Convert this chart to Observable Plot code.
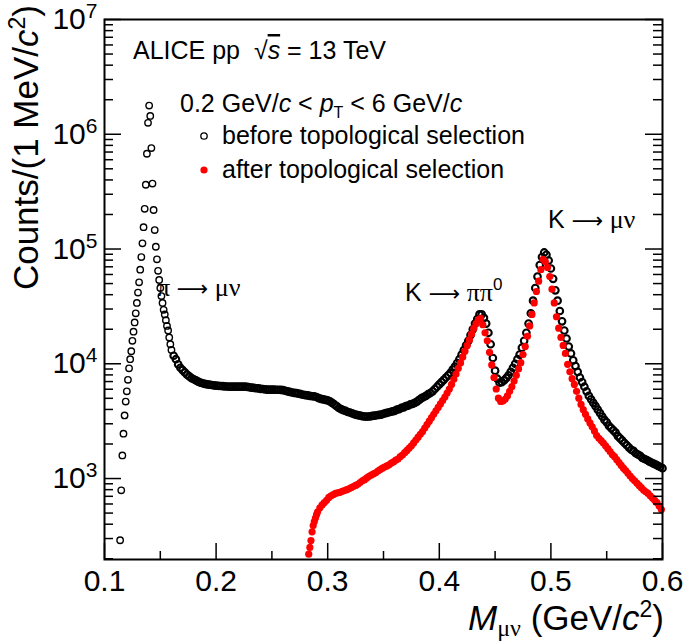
<!DOCTYPE html>
<html><head><meta charset="utf-8">
<script src="https://cdn.jsdelivr.net/npm/d3@7"></script>
<script src="https://cdn.jsdelivr.net/npm/@observablehq/plot@0.6"></script>
<style>
body{margin:0;background:#fff}
svg text{font-family:"Liberation Sans",Arial,sans-serif}
</style>
</head><body><div id="chart"></div>
<script>
// ---- data (counts per 1 MeV/c^2 bin) ----
// before topological selection: fine part 114..160 MeV (step 1), coarse part 162..600 MeV (step 2)
const beforeFineMassMeV = d3.range(114, 161, 1);
const beforeFineCounts = [290,790,1590,2460,3550,4680,5750,7240,9120,10960,12880,15850,19050,22910,27540,33880,41690,51290,66070,85110,112200,154900,223900,363100,676100,1259000,1778000,1445000,758600,371500,218800,146200,104700,81280,64570,53700,45710,38900,33880,29510,26920,23990,21380,19500,16980,14790,13180];
const beforeCoarseMassMeV = d3.range(162, 601, 2);
const beforeCoarseCounts = [11750,10960,9890,9230,8810,8410,8040,7760,7500,7330,7160,7000,6840,6760,6680,6610,6580,6530,6490,6460,
6430,6400,6380,6350,6340,6310,6310,6310,6310,6310,6310,6310,6310,6280,6240,6190,6170,6120,6100,6050,
6030,5980,5960,5960,5960,5960,5940,5940,5930,5890,5820,5750,5690,5620,5580,5550,5500,5430,5370,5330,
5300,5250,5210,5190,5130,5010,4950,4900,4840,4790,4700,4570,4420,4270,4120,4030,3940,3890,3800,3760,
3700,3630,3590,3550,3510,3480,3470,3470,3480,3510,3530,3560,3590,3610,3670,3720,3760,3800,3850,3890,
3980,4030,4120,4170,4270,4320,4420,4470,4570,4680,4840,5010,5130,5250,5430,5560,5750,6030,6310,6610,
6920,7240,7590,7940,8320,8910,9440,10140,10960,12020,13180,14450,15850,17780,19950,22390,24550,26920,26920,25120,
22390,18620,14790,11220,8710,7410,6840,6920,7160,7500,7940,8510,9230,10000,10960,12020,13800,15850,18620,22390,
27540,35480,45710,57540,72440,85110,93330,89130,79430,67610,54950,43650,35480,28840,23440,19500,16600,14130,12300,10720,
9550,8510,7590,6920,6310,5750,5250,4900,4570,4270,3980,3720,3470,3240,3090,2880,2750,2630,2510,2340,
2240,2140,2040,1950,1860,1780,1740,1660,1620,1580,1510,1480,1450,1410,1380,1350,1320,1290,1260,1230];
// after topological selection: fine part 283..291 MeV (step 1), coarse part 293..599 MeV (step 2)
const afterFineMassMeV = d3.range(283, 292, 1);
const afterFineCounts = [219,251,288,343,389,422,452,484,513];
const afterCoarseMassMeV = d3.range(293, 600, 2);
const afterCoarseCounts = [556,589,617,646,684,708,724,741,750,759,773,785,800,813,832,851,871,891,923,955,
977,1012,1047,1072,1096,1122,1161,1197,1230,1259,1288,1318,1365,1396,1445,1479,1549,1603,1679,1758,
1841,1928,2042,2163,2291,2427,2570,2754,2951,3162,3388,3631,3890,4169,4467,4786,5129,5559,6026,6607,
7328,8128,9120,10140,11480,12880,14450,16220,18200,20420,22390,24270,24830,21880,18620,15850,12590,9770,7590,6026,
5012,4699,4732,4898,5248,5754,6310,7079,7943,9016,10230,12020,14130,17380,21380,26920,33880,42660,52480,66070,
81280,77620,69180,57540,44670,33880,25700,20420,16980,14450,12300,9890,8510,7410,6610,5750,5010,4420,3980,3630,
3310,3050,2820,2600,2370,2240,2140,2040,1930,1820,1720,1620,1550,1460,1380,1300,1230,1175,1110,1050,
1000,955,912,871,832,794,767,741,708,676,646,617,575,537];

// axis ticks
const xMajorTicks = [0.1, 0.2, 0.3, 0.4, 0.5, 0.6];
const xMinorTicks = [0.15, 0.25, 0.35, 0.45, 0.55];
const yMajorTicks = [1e3, 1e4, 1e5, 1e6, 1e7];
const yMinorMultipliers = [2, 3, 4, 5, 6, 7, 8, 9];
const yDecades = [1e2, 1e3, 1e4, 1e5, 1e6];
const yDomain = [197, 1e7];

// ---- tables ----
const toRows = (mass, counts) => mass.map((m, i) => ({m: m / 1000, c: counts[i]})).filter(d => d.c != null);
const beforeFine = toRows(beforeFineMassMeV, beforeFineCounts);
const beforeCoarse = toRows(beforeCoarseMassMeV, beforeCoarseCounts);
const after = [...toRows(afterFineMassMeV, afterFineCounts), ...toRows(afterCoarseMassMeV, afterCoarseCounts)];
const yMinorTicks = yDecades.flatMap(d => yMinorMultipliers.map(k => d * k)).filter(v => v > yDomain[0] && v < yDomain[1]);

const W = 685, H = 644, mL = 104, mR = 23, mT = 19, mB = 85;
const fw = W - mL - mR, fh = H - mT - mB;
const majLen = 17, minLen = 9;

const chart = Plot.plot({
  width: W, height: H,
  marginLeft: mL, marginRight: mR, marginTop: mT, marginBottom: mB,
  style: {fontFamily: "Liberation Sans, Arial, sans-serif", fontSize: "30px", background: "white", color: "black", overflow: "visible"},
  x: {domain: [0.1, 0.6]},
  y: {type: "log", domain: yDomain},
  marks: [
    Plot.dot(beforeFine, {x: "m", y: "c", r: 3.2, stroke: "black", strokeWidth: 1.4, fill: "none"}),
    Plot.dot(beforeCoarse, {x: "m", y: "c", r: 3.3, stroke: "black", strokeWidth: 2.1, fill: "none"}),
    Plot.dot(after, {x: "m", y: "c", r: 3.6, fill: "#ff0000", stroke: "none"}),
    Plot.ruleX(xMajorTicks, {insetTop: fh - 16, stroke: "black", strokeWidth: 1.5}),
    Plot.ruleX(xMinorTicks, {insetTop: fh - 8, stroke: "black", strokeWidth: 1.5}),
    Plot.ruleY(yMajorTicks, {insetRight: fw - majLen, stroke: "black", strokeWidth: 1.5}),
    Plot.ruleY(yMinorTicks, {insetRight: fw - minLen, stroke: "black", strokeWidth: 1.5}),
    Plot.ruleY(yMajorTicks, {insetLeft: fw - majLen, stroke: "black", strokeWidth: 1.5}),
    Plot.ruleY(yMinorTicks, {insetLeft: fw - minLen, stroke: "black", strokeWidth: 1.5}),
    Plot.axisX({ticks: xMajorTicks, tickSize: 0, tickPadding: 10, tickFormat: d3.format(".1f"), label: null, fontSize: 30}),
    Plot.axisY({ticks: yMajorTicks, tickSize: 0, tickPadding: 7, tickFormat: d => "10^" + Math.round(Math.log10(d)), label: null, fontSize: 30}),
    Plot.frame({stroke: "black", strokeWidth: 2})
  ]
});
document.getElementById("chart").appendChild(chart);

const ns = "http://www.w3.org/2000/svg";
// superscript exponents on the y tick labels
chart.querySelectorAll('[aria-label="y-axis tick label"] text').forEach(t => {
  const [b, e] = t.textContent.split("^");
  t.textContent = "";
  const t1 = document.createElementNS(ns, "tspan"); t1.textContent = b; t.appendChild(t1);
  const t2 = document.createElementNS(ns, "tspan"); t2.setAttribute("dy", "-11"); t2.setAttribute("font-size", "21"); t2.textContent = e; t.appendChild(t2);
});

const g = document.createElementNS(ns, "g");
g.setAttribute("text-anchor", "start");
chart.appendChild(g);
function rich(x, y, parts, opts = {}) {
  const t = document.createElementNS(ns, "text");
  t.setAttribute("x", x); t.setAttribute("y", y);
  t.setAttribute("font-size", opts.size || 24);
  t.setAttribute("fill", "black");
  t.setAttribute("text-anchor", opts.anchor || "start");
  if (opts.transform) t.setAttribute("transform", opts.transform);
  for (const p of parts) {
    const s = document.createElementNS(ns, "tspan");
    s.textContent = p.t;
    if (p.italic) s.setAttribute("font-style", "italic");
    if (p.serif) s.setAttribute("font-family", "Liberation Serif, DejaVu Serif, serif");
    if (p.arrow) s.setAttribute("font-family", "DejaVu Sans, sans-serif");
    if (p.dy) s.setAttribute("dy", p.dy);
    if (p.size) s.setAttribute("font-size", p.size);
    if (p.deco) s.setAttribute("text-decoration", p.deco);
    t.appendChild(s);
  }
  g.appendChild(t);
  return t;
}
function circ(cx, cy, r, fill, stroke) {
  const c = document.createElementNS(ns, "circle");
  c.setAttribute("cx", cx); c.setAttribute("cy", cy); c.setAttribute("r", r);
  c.setAttribute("fill", fill); c.setAttribute("stroke", stroke); c.setAttribute("stroke-width", 1.3);
  g.appendChild(c);
}

// annotations
rich(133, 59, [{t: "ALICE pp  √"}, {t: "s", italic: true, deco: "overline"}, {t: " = 13 TeV"}], {size: 25});
rich(180, 112, [{t: "0.2 GeV/"}, {t: "c", italic: true}, {t: " < "}, {t: "p", italic: true}, {t: "T", size: 16, dy: 6}, {t: " < 6 GeV/", dy: -6}, {t: "c", italic: true}], {size: 25});
circ(204, 136, 3.2, "none", "black");
rich(222, 144, [{t: "before topological selection"}], {size: 25});
circ(204, 170, 3.6, "#ff0000", "none");
rich(222, 178, [{t: "after topological selection"}], {size: 25});
rich(157, 296, [{t: "π ", serif: true}, {t: "⟶", arrow: true, size: 22}, {t: " μν", serif: true}], {size: 26});
rich(405, 301, [{t: "K "}, {t: "⟶", arrow: true, size: 22}, {t: " ππ", serif: true, size: 26}, {t: "0", size: 17, dy: -11}], {size: 25});
rich(548, 228, [{t: "K "}, {t: "⟶", arrow: true, size: 22}, {t: " μν", serif: true, size: 26}], {size: 25});

// axis titles
rich(0, 0, [{t: "Counts/(1 MeV/"}, {t: "c", italic: true}, {t: "2", size: 23, dy: -13}, {t: ")", dy: 13}], {size: 35, anchor: "end", transform: "translate(38,5) rotate(-90)"});
rich(664, 630, [{t: "M", italic: true}, {t: "μν", serif: true, size: 24, dy: 6}, {t: " (GeV/", dy: -6}, {t: "c", italic: true}, {t: "2", size: 23, dy: -13}, {t: ")", dy: 13}], {size: 35, anchor: "end"});
</script>
</body></html>
